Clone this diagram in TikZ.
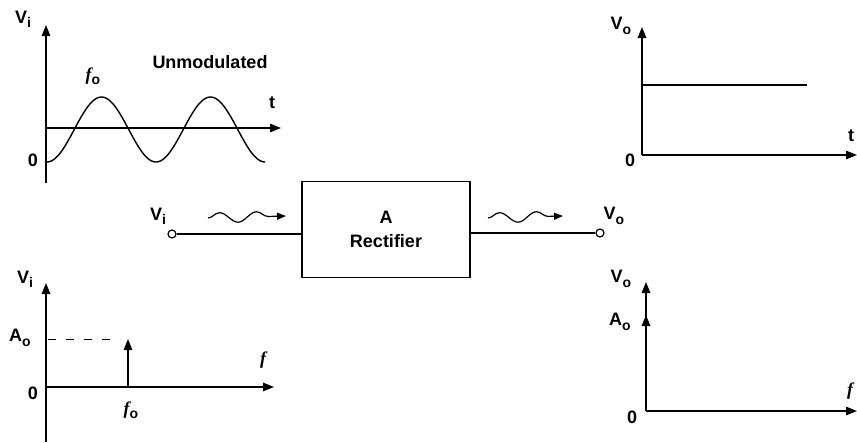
\documentclass[tikz,border=0pt]{standalone}
\usepackage{fontspec}
\setmainfont{Liberation Sans}
\newfontfamily\serifit{Liberation Serif}
\usetikzlibrary{arrows.meta}
\usetikzlibrary{decorations.pathmorphing}

\newcommand{\sig}[2]{#1\raisebox{-0.45ex}{\fontsize{14}{14}\selectfont #2}}
\newcommand{\freq}{{\serifit\bfseries\itshape f}}

\begin{document}
\begin{tikzpicture}[x=1pt,y=-1pt,
    font=\fontsize{18}{24}\selectfont\bfseries,
    axis/.style={line width=1.4pt, -{Triangle[length=11pt,width=8.5pt]}},
    curve/.style={line width=1.4pt},
    term/.style={circle, draw, line width=1.2pt, fill=white, inner sep=0pt, minimum size=8pt},
    block/.style={draw, line width=1.4pt, minimum width=168pt, minimum height=96pt, align=center},
    wave/.style={line width=1.2pt, decorate, decoration={snake, amplitude=5pt, segment length=37pt, post length=12pt}, -{Triangle[length=9pt,width=7pt]}}]
        \useasboundingbox (0,0) rectangle (857,442);
        % top left
        \draw[axis] (46,183) -- (46,25);
        \draw[axis] (46,128) -- (281,128);
        \draw[curve] plot[domain=0:720,samples=120] ({47+\x*0.30278},{129.5+32.5*cos(\x)});
        \node (vitl) at (23,19) {\sig{V}{i}};
        \node (ztl) at (33,160) {0};
        \node (fotl) at (93,76) {\sig{\freq}{o}};
        \node (unmod) at (210,62) {Unmodulated};
        \node (ttl) at (272,103) {t};
        % top right
        \draw[axis] (642,155) -- (642,27);
        \draw[axis] (642,155) -- (857,155);
        \draw[curve] (642,85) -- (807,85);
        \node (votr) at (621,26) {\sig{V}{o}};
        \node (ztr) at (630,160) {0};
        \node (ttr) at (851,136) {t};
        % rectifier
        \node[term] (vin) at (172,234) {};
        \node[block] (rect) at (386,229.5) {A\\Rectifier};
        \node[term] (vout) at (600,233) {};
        \node (vilbl) at (158,216) {\sig{V}{i}};
        \node (volbl) at (614,216) {\sig{V}{o}};
        \draw[curve] (vin) -- (vin -| rect.west);
        \draw[curve] (rect.east |- vout) -- (vout);
        \draw[wave] (208,218) -- (286,216);
        \draw[wave] (488,218) -- (563,216);
        % bottom left
        \draw[axis] (46,442) -- (46,283);
        \draw[axis] (46,387) -- (274,387);
        \draw[line width=1pt, dash pattern=on 8pt off 10pt] (48,339) -- (120,339);
        \draw[axis] (128,387) -- (128,339);
        \node (vibl) at (25,279) {\sig{V}{i}};
        \node (aobl) at (20,338) {\sig{A}{o}};
        \node (zbl) at (33,393) {0};
        \node (fbl) at (263,360) {\freq};
        \node (fobl) at (131,410) {\sig{\freq}{o}};
        % bottom right
        \draw[axis] (646,411) -- (646,282);
        \draw[axis] (646,411) -- (646,315);
        \draw[axis] (646,411) -- (857,411);
        \node (vobr) at (621,279) {\sig{V}{o}};
        \node (aobr) at (620,322) {\sig{A}{o}};
        \node (zbr) at (632,417) {0};
        \node (fbr) at (850,391) {\freq};
    \end{tikzpicture}
\end{document}
